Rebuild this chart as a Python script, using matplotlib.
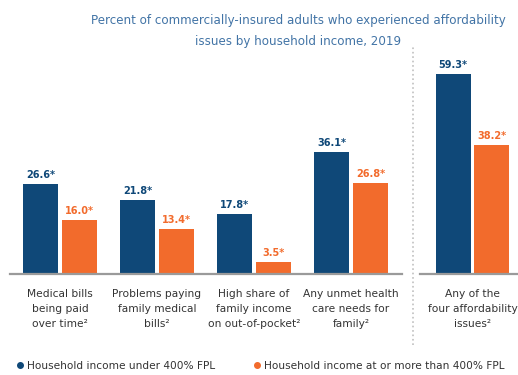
import matplotlib.pyplot as plt
from matplotlib.lines import Line2D

# 数据
categories = ['Medical bills\nbeing paid\nover time²',
              'Problems paying\nfamily medical\nbills²',
              'High share of\nfamily income\non out-of-pocket²',
              'Any unmet health\ncare needs for\nfamily²']
under_400 = [26.6, 21.8, 17.8, 36.1]
over_400 = [16.0, 13.4, 3.5, 26.8]

any_category = ['Any of the\nfour affordability\nissues²']
any_under = [59.3]
any_over = [38.2]

series_names = ['Household income under 400% FPL',
                'Household income at or more than 400% FPL']

blue = '#0f4878'
orange = '#f26b2c'
text_gray = '#333333'
fs = 7.7

fig = plt.figure(figsize=(5.18, 3.75), dpi=100)
W, H = 518, 375
base_y = 274
top_y = 60
ymax = (base_y - top_y) / 3.38


def px_axes(left, right):
    return fig.add_axes([left / W, (H - base_y) / H,
                         (right - left) / W, (base_y - top_y) / H])


def draw_group(ax, labels, blues, oranges):
    x = list(range(len(labels)))
    b1 = ax.bar([i - 0.2 for i in x], blues, width=0.36, color=blue)
    b2 = ax.bar([i + 0.2 for i in x], oranges, width=0.36, color=orange)
    for bars, col in ((b1, blue), (b2, orange)):
        for r in bars:
            ax.text(r.get_x() + r.get_width() / 2, r.get_height() + 1.2,
                    f'{r.get_height():.1f}*', ha='center', va='bottom',
                    fontsize=7, fontweight='bold', color=col)
    ax.set_ylim(0, ymax)
    ax.set_xticks(x)
    ax.set_xticklabels(labels, fontsize=fs, color=text_gray, linespacing=1.6)
    ax.tick_params(axis='x', length=0, pad=11)
    ax.set_yticks([])
    for s in ('top', 'left', 'right'):
        ax.spines[s].set_visible(False)
    ax.spines['bottom'].set_color('#9a9a9a')
    ax.spines['bottom'].set_linewidth(1.6)


# 左边四组
ax1 = px_axes(10, 402)
draw_group(ax1, categories, under_400, over_400)
ax1.set_xlim(-0.515, 3.526)

# 右边一组
ax2 = px_axes(420, 518)
draw_group(ax2, any_category, any_under, any_over)
ax2.set_xlim(-0.541, 0.469)

# 中间的虚线
fig.add_artist(Line2D([413 / W, 413 / W], [1 - 345 / H, 1 - 45 / H],
                      color='#c0c0c0', linestyle=':', linewidth=1.2))

# 标题
fig.text(298 / W, 1 - 31 / H,
         'Percent of commercially-insured adults who experienced affordability\n'
         'issues by household income, 2019',
         ha='center', va='center', fontsize=8.6, color='#4274a6', linespacing=1.75)

# 图例
handles = [Line2D([], [], marker='o', linestyle='', color=blue, markersize=4),
           Line2D([], [], marker='o', linestyle='', color=orange, markersize=4)]
fig.legend(handles, series_names, loc='center left', ncol=2,
           bbox_to_anchor=(5 / W, 1 - 366 / H), frameon=False, fontsize=7.6,
           handletextpad=0.1, columnspacing=3.4, handlelength=1.1,
           labelcolor=text_gray)

plt.savefig('out.png', dpi=100)
